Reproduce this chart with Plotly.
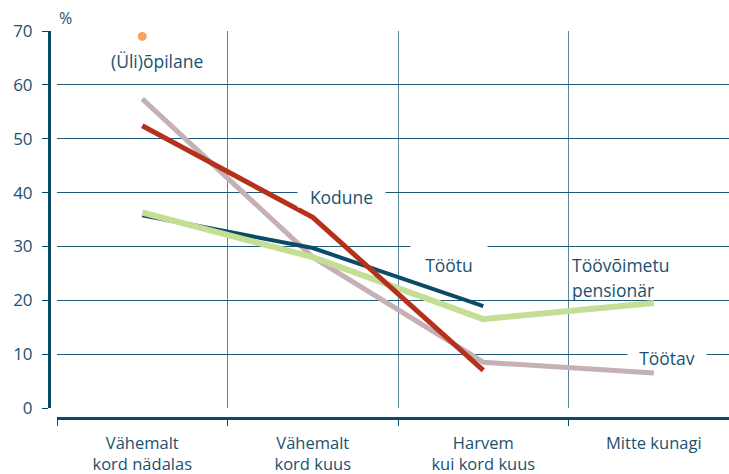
import plotly.graph_objects as go

categories = ["Vähemalt<br>kord nädalas", "Vähemalt<br>kord kuus", "Harvem<br>kui kord kuus", "Mitte kunagi"]
x_pos = [0, 1, 2, 3]

tootav = [57.4, 28.0, 8.5, 6.5]
tootu = [35.8, 29.7, 18.9, None]
pensionar = [36.3, 28.0, 16.5, 19.5]
kodune = [52.4, 35.4, 7.0, None]
opilane = [69.0, None, None, None]

y_ticks = [0, 10, 20, 30, 40, 50, 60, 70]

TXT = "#1b5170"
AX = "#0b4a66"
FONT = "Open Sans"

fig = go.Figure()
fig.add_trace(go.Scatter(x=x_pos, y=tootav, mode="lines", line=dict(color="#c4b0b5", width=5), name="Töötav"))
fig.add_trace(go.Scatter(x=x_pos, y=tootu, mode="lines", line=dict(color="#0b4b68", width=4), name="Töötu"))
fig.add_trace(go.Scatter(x=x_pos, y=pensionar, mode="lines", line=dict(color="#c4df95", width=6), name="Töövõimetu pensionär"))
fig.add_trace(go.Scatter(x=x_pos, y=kodune, mode="lines", line=dict(color="#b5311b", width=5), name="Kodune"))
fig.add_trace(go.Scatter(x=x_pos, y=opilane, mode="markers", marker=dict(color="#f7a35c", size=9), name="(Üli)õpilane"))

ann_font = dict(family=FONT, size=17.5, color=TXT)
annotations = [
    dict(x=-0.5, y=1.034, yref="paper", text="%", xanchor="left", yanchor="middle", showarrow=False,
         font=dict(family=FONT, size=16, color=TXT)),
    dict(x=0.0865, y=64.4, text="(Üli)õpilane", showarrow=False, font=ann_font),
    dict(x=1.17, y=39.1, text="Kodune", showarrow=False, font=ann_font, bgcolor="white", width=85, height=18),
    dict(x=1.80, y=27.4, text="Töötu", showarrow=False, font=ann_font, bgcolor="white", width=74, height=33, valign="bottom"),
    dict(x=2.509, y=26.55, text="Töövõimetu", xanchor="left", showarrow=False, font=ann_font),
    dict(x=2.509, y=21.9, text="pensionär", xanchor="left", showarrow=False, font=ann_font),
    dict(x=3.08, y=9.28, text="Töötav", showarrow=False, font=ann_font, bgcolor="white", width=76, height=18),
]
for a in annotations:
    a.setdefault("xref", "x")
    a.setdefault("yref", "y")

fig.update_layout(
    width=729, height=474,
    margin=dict(l=49, r=0, t=31, b=56),
    paper_bgcolor="white", plot_bgcolor="white",
    showlegend=False,
    annotations=annotations,
    font=dict(family=FONT, color=TXT),
    xaxis=dict(
        domain=[8 / 680, 1], anchor="free", position=0, automargin=False,
        range=[-0.5, 3.441],
        tickmode="array", tickvals=x_pos, ticktext=categories,
        ticks="", showgrid=False, zeroline=False,
        showline=True, linewidth=3, linecolor=AX,
        tickfont=dict(family=FONT, size=16.5, color=TXT),
        ticklabelstandoff=9,
        minor=dict(tickmode="array", tickvals=[-0.5, 0.5, 1.5, 2.5], ticks="outside", ticklen=6,
                   tickwidth=1, tickcolor=AX, showgrid=True, gridcolor="#5f8599", gridwidth=1),
    ),
    yaxis=dict(
        domain=[10 / 387, 1], anchor="free", position=0, automargin=False,
        range=[0, 70], tickmode="array", tickvals=y_ticks,
        ticks="outside", ticklen=6, tickwidth=1, tickcolor=AX,
        showgrid=True, gridcolor="#1f5a78", gridwidth=1, zeroline=False,
        showline=True, linewidth=3, linecolor=AX,
        tickfont=dict(family=FONT, size=17, color=TXT),
        ticklabelstandoff=6,
    ),
)

fig.write_html("out.html", config={"displayModeBar": False},
               post_script="document.body.style.margin='0';document.body.style.overflow='hidden';")
